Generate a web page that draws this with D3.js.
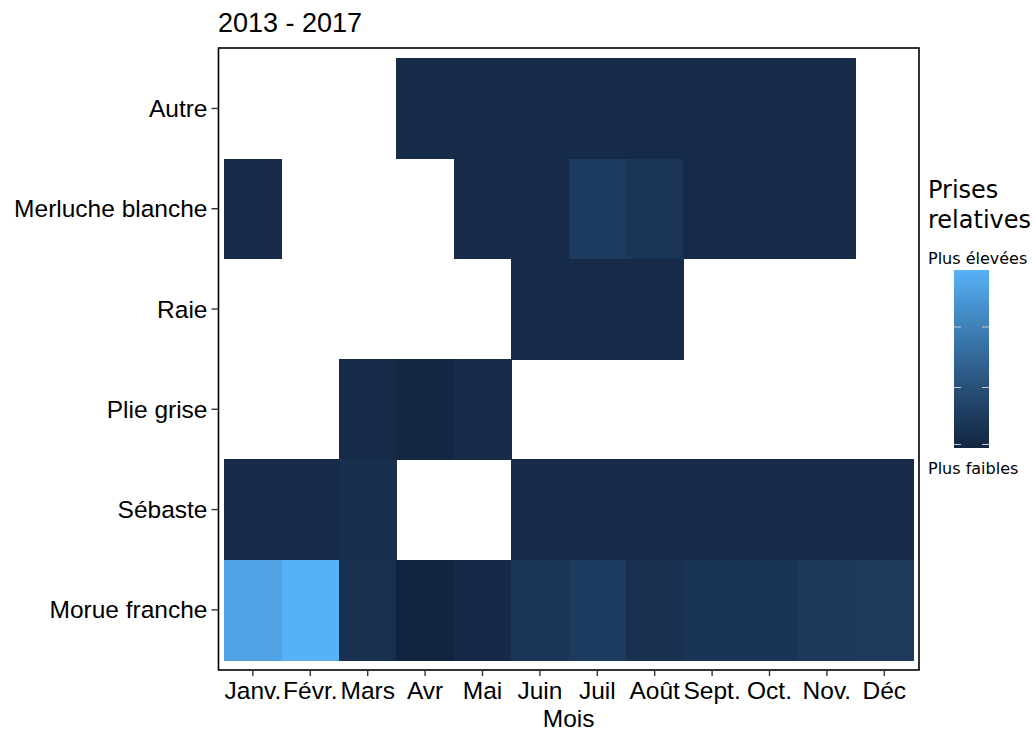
<!DOCTYPE html>
<html>
<head>
<meta charset="utf-8">
<script src="https://cdn.jsdelivr.net/npm/d3@7"></script>
<style>
  body { margin: 0; background: #fff; }
  svg text { font-family: "Liberation Sans", Arial, sans-serif; fill: #000; }
  .legend text { font-family: "DejaVu Sans", sans-serif; }
</style>
</head>
<body>
<div id="chart"></div>
<script>
// Data (relative catches, 0 = lowest, 1 = highest, null = no catch)
const months = ["Janv.", "Févr.", "Mars", "Avr", "Mai", "Juin", "Juil", "Août", "Sept.", "Oct.", "Nov.", "Déc"];
const species = ["Autre", "Merluche blanche", "Raie", "Plie grise", "Sébaste", "Morue franche"];

const autre    = [null, null, null, 0.05, 0.05, 0.05, 0.05, 0.05, 0.05, 0.05, 0.05, null];
const merluche = [0.05, null, null, null, 0.05, 0.06, 0.18, 0.13, 0.05, 0.05, 0.05, null];
const raie     = [null, null, null, null, null, 0.05, 0.05, 0.05, null, null, null, null];
const plie     = [null, null, 0.05, 0.02, 0.06, null, null, null, null, null, null, null];
const sebaste  = [0.05, 0.05, 0.08, null, null, 0.05, 0.05, 0.05, 0.05, 0.05, 0.05, 0.05];
const morue    = [0.90, 1.00, 0.09, 0.00, 0.04, 0.13, 0.18, 0.09, 0.12, 0.12, 0.16, 0.17];

const legendBreaks = [0.02, 0.34, 0.68];

const seriesBySpecies = {
  "Autre": autre,
  "Merluche blanche": merluche,
  "Raie": raie,
  "Plie grise": plie,
  "Sébaste": sebaste,
  "Morue franche": morue
};

// Build long table for tiles
const cells = [];
species.forEach(s => {
  seriesBySpecies[s].forEach((v, i) => {
    if (v !== null) cells.push({ species: s, month: months[i], value: v });
  });
});

const width = 1036, height = 731;
const panel = { left: 218.5, right: 919, top: 48, bottom: 670 };

const svg = d3.select("#chart").append("svg")
  .attr("width", width)
  .attr("height", height);

const x = d3.scaleBand()
  .domain(months)
  .range([224.2, 913]);

const y = d3.scaleBand()
  .domain(species)
  .range([58.3, 660]);

const color = d3.scaleLinear()
  .domain([0, 1])
  .range(["#122540", "#56B1F7"])
  .interpolate(d3.interpolateLab);

// Tiles
svg.append("g")
  .attr("shape-rendering", "crispEdges")
  .selectAll("rect")
  .data(cells)
  .enter()
  .append("rect")
  .attr("x", d => x(d.month))
  .attr("y", d => y(d.species))
  .attr("width", x.bandwidth() + 0.5)
  .attr("height", y.bandwidth() + 0.5)
  .attr("fill", d => color(d.value));

// Panel border
svg.append("rect")
  .attr("x", panel.left)
  .attr("y", panel.top)
  .attr("width", panel.right - panel.left)
  .attr("height", panel.bottom - panel.top)
  .attr("fill", "none")
  .attr("stroke", "#000")
  .attr("stroke-width", 1.6);

// X axis
const xAxis = svg.append("g")
  .attr("transform", `translate(0,${panel.bottom})`)
  .call(d3.axisBottom(x).tickSize(6).tickPadding(6).tickSizeOuter(0));
xAxis.select(".domain").remove();
xAxis.selectAll(".tick line").attr("stroke", "#333").attr("stroke-width", 1.4);
xAxis.selectAll(".tick text")
  .style("font-size", "24.5px")
  .attr("dy", "0.71em")
  .attr("fill", "#000");

// Y axis
const yAxis = svg.append("g")
  .attr("transform", `translate(${panel.left},0)`)
  .call(d3.axisLeft(y).tickSize(7).tickPadding(4).tickSizeOuter(0));
yAxis.select(".domain").remove();
yAxis.selectAll(".tick line").attr("stroke", "#333").attr("stroke-width", 1.4);
yAxis.selectAll(".tick text")
  .style("font-size", "24.5px")
  .attr("dy", "0.35em")
  .attr("fill", "#000");

// Title and axis title
svg.append("text")
  .attr("x", 218)
  .attr("y", 31.5)
  .style("font-size", "27px")
  .text("2013 - 2017");

svg.append("text")
  .attr("x", (224.2 + 913) / 2)
  .attr("y", 727)
  .attr("text-anchor", "middle")
  .style("font-size", "24.5px")
  .text("Mois");

// Legend
const legend = svg.append("g").attr("class", "legend");
legend.append("text").attr("x", 928).attr("y", 198).style("font-size", "24px").text("Prises");
legend.append("text").attr("x", 928).attr("y", 228).style("font-size", "24px").text("relatives");
legend.append("text").attr("x", 928).attr("y", 264).style("font-size", "16px").text("Plus élevées");
legend.append("text").attr("x", 928).attr("y", 474).style("font-size", "16px").text("Plus faibles");

const bar = { x: 954, w: 35, top: 270, bottom: 448 };
const ly = d3.scaleLinear().domain([0, 1]).range([bar.bottom, bar.top]);

const defs = svg.append("defs");
const grad = defs.append("linearGradient")
  .attr("id", "legend-grad")
  .attr("x1", 0).attr("y1", 1).attr("x2", 0).attr("y2", 0);
d3.range(0, 1.0001, 0.1).forEach(t => {
  grad.append("stop").attr("offset", t).attr("stop-color", color(t));
});

legend.append("rect")
  .attr("x", bar.x)
  .attr("y", bar.top)
  .attr("width", bar.w)
  .attr("height", bar.bottom - bar.top)
  .attr("fill", "url(#legend-grad)");

legendBreaks.forEach(b => {
  legend.append("line")
    .attr("x1", bar.x).attr("x2", bar.x + 7)
    .attr("y1", ly(b)).attr("y2", ly(b))
    .attr("stroke", "#ccc").attr("stroke-width", 1);
  legend.append("line")
    .attr("x1", bar.x + bar.w - 7).attr("x2", bar.x + bar.w)
    .attr("y1", ly(b)).attr("y2", ly(b))
    .attr("stroke", "#ccc").attr("stroke-width", 1);
});
</script>
</body>
</html>
